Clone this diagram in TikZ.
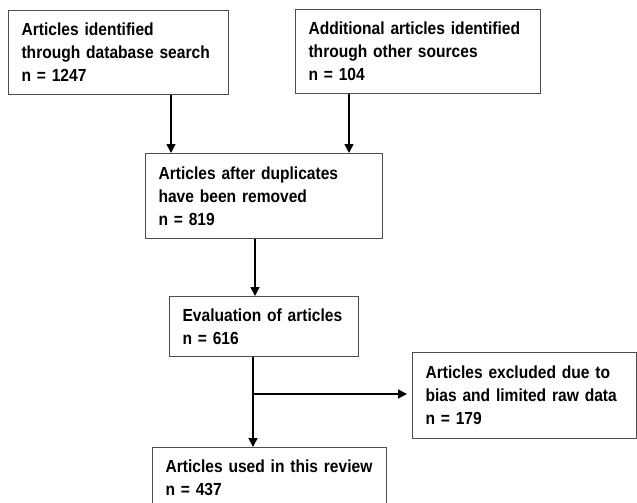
\documentclass[tikz,border=0pt]{standalone}
\usepackage{fontspec}
\newfontfamily\flowfamily[FakeStretch=0.89, WordSpace=0.65]{Liberation Sans}
\usetikzlibrary{arrows.meta, positioning}
\newcommand\flowfont{\flowfamily\bfseries\fontsize{17.5}{23}\selectfont}

\begin{document}
\begin{tikzpicture}[x=1pt, y=-1pt,
    stagebox/.style={draw=black!70, line width=1.1pt, anchor=north west, align=left,
        inner xsep=13pt, inner ysep=0pt, font=\flowfont},
    arr/.style={-{Triangle[length=9pt, width=9pt]}, line width=1.6pt}]

    \useasboundingbox (0,0) rectangle (637,503);

    % Identification
    \node at (8, 10) [stagebox, text width=194pt, minimum height=84pt] (db) {Articles identified\\through database search\\n = 1247};
    \node at (295, 9) [stagebox, text width=219pt, minimum height=84pt] (other) {Additional articles identified\\through other sources\\n = 104};

    % Screening
    \node at (145, 153) [stagebox, text width=211pt, minimum height=85pt] (dup) {Articles after duplicates\\have been removed\\n = 819};
    \node at (169, 296) [stagebox, text width=163pt, minimum height=60pt] (eval) {Evaluation of articles\\n = 616};

    % Exclusion and inclusion
    \node at (412, 352) [stagebox, text width=198pt, minimum height=86pt] (excl) {Articles excluded due to\\bias and limited raw data\\n = 179};
    \node at (152, 447) [stagebox, text width=208pt, minimum height=60pt] (used) {Articles used in this review\\n = 437};

    \coordinate (split) at (253, 394);

    \draw[arr] (db.south -| 171,0) -- (dup.north -| 171,0);
    \draw[arr] (other.south -| 349,0) -- (dup.north -| 349,0);
    \draw[arr] (dup.south -| 255,0) -- (eval.north -| 255,0);
    \draw[arr] (eval.south -| split) -- (used.north -| split);
    \draw[arr, shorten >=5pt] (split) -- (excl.west |- split);
\end{tikzpicture}
\end{document}
